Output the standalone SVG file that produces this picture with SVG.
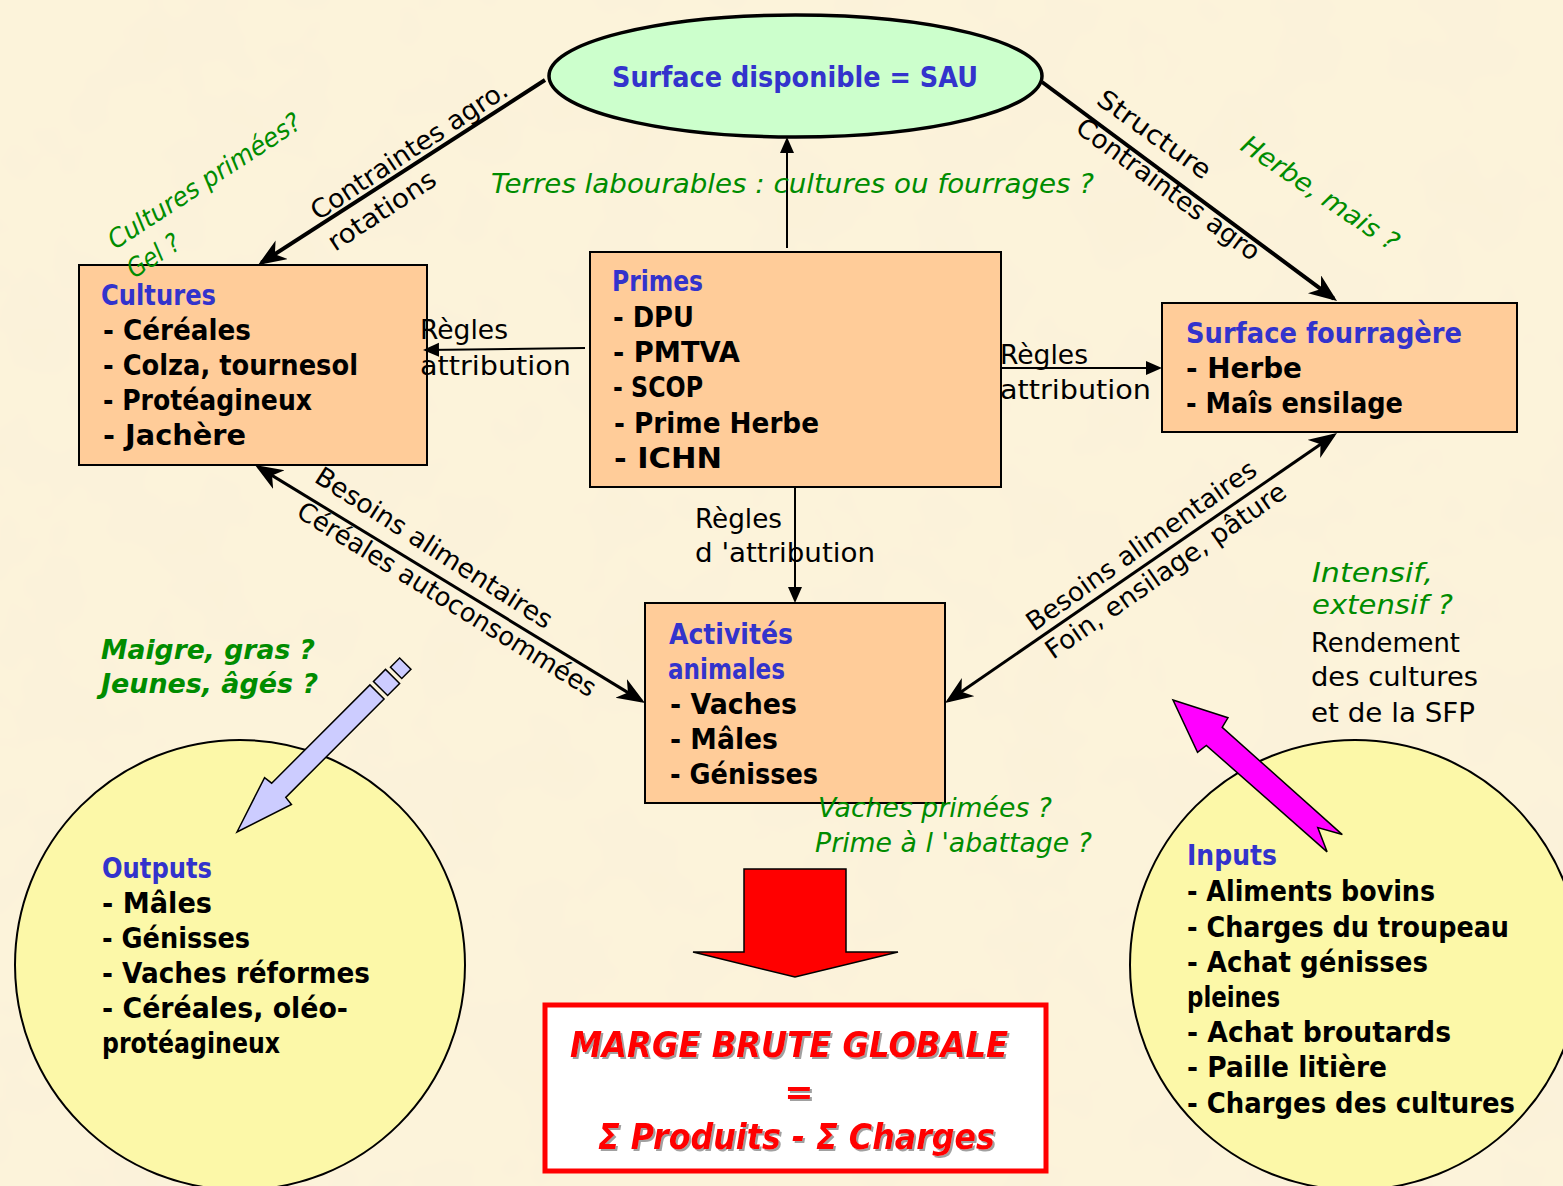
<svg xmlns="http://www.w3.org/2000/svg" width="1563" height="1186" viewBox="0 0 1563 1186">
<defs>
<style>
.t{font-family:"DejaVu Sans","Noto Sans",sans-serif;font-size:27px;fill:#000}
.b{font-weight:bold;font-size:28px}
.bl{fill:#3333CC}
.g{fill:#008C00;font-style:italic}
.bi{font-weight:bold;font-style:italic;font-size:27px}
.rot{font-size:26px}
.r{fill:#FF0000;font-weight:bold;font-style:italic;font-size:35px}
.box{fill:#FFCC99;stroke:#000;stroke-width:2}
.circ{fill:#FCF8A8;stroke:#000;stroke-width:2}
.ln{fill:none;stroke:#000}
</style>
<marker id="ah" markerUnits="userSpaceOnUse" markerWidth="32" markerHeight="24" viewBox="0 0 32 24" refX="24" refY="11" orient="auto-start-reverse">
<path d="M0,0 L28,11 L0,22 L8,11 z" fill="#000"/>
</marker>
<marker id="as" markerUnits="userSpaceOnUse" markerWidth="20" markerHeight="16" viewBox="0 0 20 16" refX="13" refY="7" orient="auto-start-reverse">
<path d="M0,0 L16,7 L0,14 z" fill="#000"/>
</marker>
<filter id="parch" x="0" y="0" width="100%" height="100%">
<feTurbulence type="fractalNoise" baseFrequency="0.012" numOctaves="3" seed="4"/>
<feColorMatrix values="0 0 0 0 0.93  0 0 0 0 0.85  0 0 0 0 0.68  0 0 0 0.4 -0.12"/>
</filter>
<filter id="sh" x="-5%" y="-20%" width="110%" height="140%">
<feDropShadow dx="2" dy="2" stdDeviation="0.6" flood-color="#777" flood-opacity="0.7"/>
</filter>
</defs>

<g id="background">
<rect x="0" y="0" width="1563" height="1186" fill="#FCF3DA"/>
<rect x="0" y="0" width="1563" height="1186" filter="url(#parch)"/>
</g>

<g id="outputs">
<circle class="circ" cx="240" cy="965" r="225"/>
<text class="t b bl" x="102" y="878" textLength="110" lengthAdjust="spacingAndGlyphs">Outputs</text>
<text class="t b" x="102" y="913" textLength="110" lengthAdjust="spacingAndGlyphs">- Mâles</text>
<text class="t b" x="102" y="948" textLength="148" lengthAdjust="spacingAndGlyphs">- Génisses</text>
<text class="t b" x="102" y="983" textLength="268" lengthAdjust="spacingAndGlyphs">- Vaches réformes</text>
<text class="t b" x="102" y="1018" textLength="246" lengthAdjust="spacingAndGlyphs">- Céréales, oléo-</text>
<text class="t b" x="102" y="1053" textLength="178" lengthAdjust="spacingAndGlyphs">protéagineux</text>
</g>

<g id="inputs">
<circle class="circ" cx="1355" cy="965" r="225"/>
<text class="t b bl" x="1187" y="865" textLength="90" lengthAdjust="spacingAndGlyphs">Inputs</text>
<text class="t b" x="1187" y="901" textLength="248" lengthAdjust="spacingAndGlyphs">- Aliments bovins</text>
<text class="t b" x="1187" y="937" textLength="322" lengthAdjust="spacingAndGlyphs">- Charges du troupeau</text>
<text class="t b" x="1187" y="972" textLength="241" lengthAdjust="spacingAndGlyphs">- Achat génisses</text>
<text class="t b" x="1187" y="1007" textLength="93" lengthAdjust="spacingAndGlyphs">pleines</text>
<text class="t b" x="1187" y="1042" textLength="264" lengthAdjust="spacingAndGlyphs">- Achat broutards</text>
<text class="t b" x="1187" y="1077" textLength="200" lengthAdjust="spacingAndGlyphs">- Paille litière</text>
<text class="t b" x="1187" y="1113" textLength="328" lengthAdjust="spacingAndGlyphs">- Charges des cultures</text>
</g>

<g id="surface-disponible">
<ellipse cx="795.5" cy="76" rx="246.5" ry="61" fill="#CCFFCC" stroke="#000" stroke-width="3.5"/>
<text class="t b bl" x="612" y="87" textLength="366" lengthAdjust="spacingAndGlyphs">Surface disponible = SAU</text>
</g>

<g id="cultures">
<rect class="box" x="79" y="265" width="348" height="200"/>
<text class="t b bl" x="101" y="305" textLength="115" lengthAdjust="spacingAndGlyphs">Cultures</text>
<text class="t b" x="103" y="340" textLength="148" lengthAdjust="spacingAndGlyphs">- Céréales</text>
<text class="t b" x="103" y="375" textLength="255" lengthAdjust="spacingAndGlyphs">- Colza, tournesol</text>
<text class="t b" x="103" y="410" textLength="209" lengthAdjust="spacingAndGlyphs">- Protéagineux</text>
<text class="t b" x="103" y="445" textLength="143" lengthAdjust="spacingAndGlyphs">- Jachère</text>
</g>

<g id="primes">
<rect class="box" x="590" y="252" width="411" height="235"/>
<text class="t b bl" x="612" y="291" textLength="91" lengthAdjust="spacingAndGlyphs">Primes</text>
<text class="t b" x="613" y="327" textLength="81" lengthAdjust="spacingAndGlyphs">- DPU</text>
<text class="t b" x="613" y="362" textLength="127" lengthAdjust="spacingAndGlyphs">- PMTVA</text>
<text class="t b" x="613" y="397" textLength="90" lengthAdjust="spacingAndGlyphs">- SCOP</text>
<text class="t b" x="614" y="433" textLength="205" lengthAdjust="spacingAndGlyphs">- Prime Herbe</text>
<text class="t b" x="614" y="468" textLength="108" lengthAdjust="spacingAndGlyphs">- ICHN</text>
</g>

<g id="surface-fourragere">
<rect class="box" x="1162" y="303" width="355" height="129"/>
<text class="t b bl" x="1186" y="343" textLength="276" lengthAdjust="spacingAndGlyphs">Surface fourragère</text>
<text class="t b" x="1186" y="378" textLength="116" lengthAdjust="spacingAndGlyphs">- Herbe</text>
<text class="t b" x="1186" y="413" textLength="217" lengthAdjust="spacingAndGlyphs">- Maîs ensilage</text>
</g>

<g id="activites-animales">
<rect class="box" x="645" y="603" width="300" height="200"/>
<text class="t b bl" x="669" y="644" textLength="124" lengthAdjust="spacingAndGlyphs">Activités</text>
<text class="t b bl" x="668" y="679" textLength="117" lengthAdjust="spacingAndGlyphs">animales</text>
<text class="t b" x="670" y="714" textLength="127" lengthAdjust="spacingAndGlyphs">- Vaches</text>
<text class="t b" x="670" y="749" textLength="108" lengthAdjust="spacingAndGlyphs">- Mâles</text>
<text class="t b" x="670" y="784" textLength="148" lengthAdjust="spacingAndGlyphs">- Génisses</text>
</g>

<g id="connectors">
<path class="ln" d="M545,80 L261.4,262.8" stroke-width="4" marker-end="url(#ah)"/>
<path class="ln" d="M1042,82 L1333.8,298.6" stroke-width="4" marker-end="url(#ah)"/>
<path class="ln" d="M787,248 L787,140" stroke-width="2" marker-end="url(#as)"/>
<path class="ln" d="M585,348 L426,350" stroke-width="2" marker-end="url(#as)"/>
<path class="ln" d="M1001,368 L1159,368" stroke-width="2" marker-end="url(#as)"/>
<path class="ln" d="M795,487 L795,600" stroke-width="2" marker-end="url(#as)"/>
<path class="ln" d="M258.4,467.1 L641.6,700.9" stroke-width="3" marker-start="url(#ah)" marker-end="url(#ah)"/>
<path class="ln" d="M948.3,700.7 L1333.7,435.3" stroke-width="3" marker-start="url(#ah)" marker-end="url(#ah)"/>
</g>

<g id="connector-labels">
<text class="t rot" transform="translate(318,221) rotate(-33.4)" textLength="230" lengthAdjust="spacingAndGlyphs">Contraintes agro.</text>
<text class="t rot" transform="translate(335,252) rotate(-33.4)" textLength="124" lengthAdjust="spacingAndGlyphs">rotations</text>
<text class="t rot" transform="translate(1095,103) rotate(35.5)" textLength="133" lengthAdjust="spacingAndGlyphs">Structure</text>
<text class="t rot" transform="translate(1074,131) rotate(36.3)" textLength="221" lengthAdjust="spacingAndGlyphs">Contraintes agro</text>
<text class="t" x="420" y="339" textLength="88" lengthAdjust="spacingAndGlyphs">Règles</text>
<text class="t" x="420" y="375" textLength="151" lengthAdjust="spacingAndGlyphs">attribution</text>
<text class="t" x="1000" y="364" textLength="88" lengthAdjust="spacingAndGlyphs">Règles</text>
<text class="t" x="1000" y="399" textLength="151" lengthAdjust="spacingAndGlyphs">attribution</text>
<text class="t" x="695" y="528" textLength="87" lengthAdjust="spacingAndGlyphs">Règles</text>
<text class="t" x="695" y="562" textLength="180" lengthAdjust="spacingAndGlyphs">d 'attribution</text>
<text class="t rot" transform="translate(313,481) rotate(32.6)" textLength="276" lengthAdjust="spacingAndGlyphs">Besoins alimentaires</text>
<text class="t rot" transform="translate(295,516) rotate(31.7)" textLength="346" lengthAdjust="spacingAndGlyphs">Céréales autoconsommées</text>
<text class="t rot" transform="translate(1034,632) rotate(-35.2)" textLength="275" lengthAdjust="spacingAndGlyphs">Besoins alimentaires</text>
<text class="t rot" transform="translate(1053,660) rotate(-34.9)" textLength="287" lengthAdjust="spacingAndGlyphs">Foin, ensilage, pâture</text>
</g>

<g id="notes">
<text class="t g" x="491" y="193" font-size="28" textLength="603" lengthAdjust="spacingAndGlyphs">Terres labourables : cultures ou fourrages ?</text>
<text class="t g rot" transform="translate(115,250) rotate(-33.2)" textLength="225" lengthAdjust="spacingAndGlyphs">Cultures primées?</text>
<text class="t g rot" transform="translate(134,279) rotate(-33.2)" textLength="58" lengthAdjust="spacingAndGlyphs">Gel ?</text>
<text class="t g rot" transform="translate(1239,149) rotate(34)" textLength="184" lengthAdjust="spacingAndGlyphs">Herbe, mais ?</text>
<text class="t g bi" x="101" y="659" textLength="214" lengthAdjust="spacingAndGlyphs">Maigre, gras ?</text>
<text class="t g bi" x="101" y="693" textLength="217" lengthAdjust="spacingAndGlyphs">Jeunes, âgés ?</text>
<text class="t g" x="1312" y="582" textLength="121" lengthAdjust="spacingAndGlyphs">Intensif,</text>
<text class="t g" x="1312" y="614" textLength="141" lengthAdjust="spacingAndGlyphs">extensif ?</text>
<text class="t" x="1311" y="652" textLength="149" lengthAdjust="spacingAndGlyphs">Rendement</text>
<text class="t" x="1311" y="686" textLength="167" lengthAdjust="spacingAndGlyphs">des cultures</text>
<text class="t" x="1311" y="722" textLength="164" lengthAdjust="spacingAndGlyphs">et de la SFP</text>
<text class="t g" x="818" y="817" textLength="234" lengthAdjust="spacingAndGlyphs">Vaches primées ?</text>
<text class="t g" x="815" y="852" textLength="277" lengthAdjust="spacingAndGlyphs">Prime à l 'abattage ?</text>
</g>

<g id="arrow-outputs" transform="translate(237,832) rotate(-45)" fill="#CCCCFF" stroke="#000" stroke-width="1.5" stroke-linejoin="miter">
<polygon points="0,0 58,-19 59,-10 198,-10 198,10 59,10 58,19"/>
<rect x="203" y="-10" width="17" height="20"/>
<rect x="225" y="-8" width="13" height="16"/>
</g>

<g id="arrow-inputs" transform="translate(1173,700) rotate(41.4)">
<polygon points="0,0 53,-23 55,-12 216,-11 193,0 216,12 55,12 53,23" fill="#FF00FF" stroke="#000" stroke-width="1.5"/>
</g>

<g id="arrow-result">
<polygon points="744,869 846,869 846,952 898,952 795,977 693,952 744,952" fill="#FF0000" stroke="#000" stroke-width="1.5"/>
</g>

<g id="marge-brute">
<rect x="545" y="1005" width="501" height="166" fill="#FFFFFF" stroke="#FF0000" stroke-width="5"/>
<g filter="url(#sh)">
<text class="t r" x="570" y="1057" textLength="438" lengthAdjust="spacingAndGlyphs">MARGE BRUTE GLOBALE</text>
<text class="t r" x="799" y="1104" text-anchor="middle">=</text>
<text class="t r" x="598" y="1149" textLength="397" lengthAdjust="spacingAndGlyphs">Σ Produits - Σ Charges</text>
</g>
</g>
</svg>
